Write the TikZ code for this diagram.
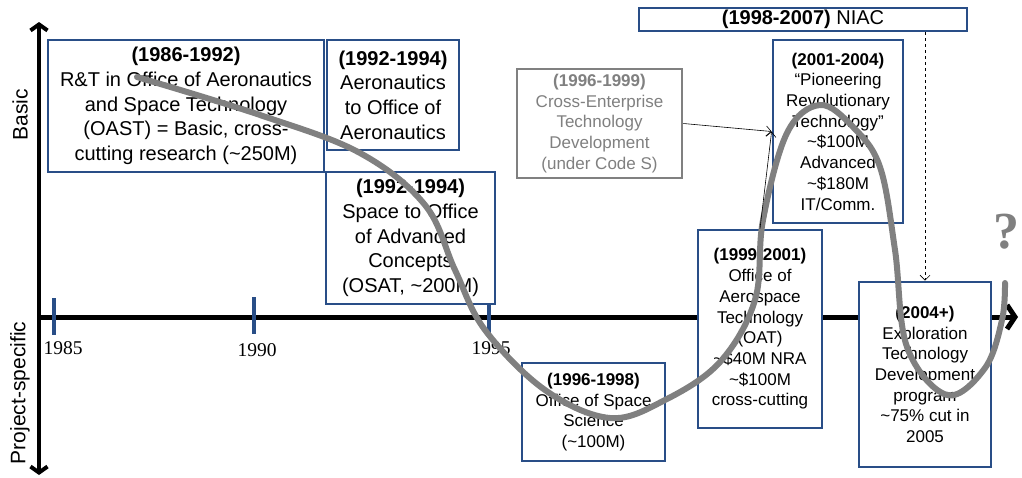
\documentclass[tikz,border=0pt]{standalone}
\usepackage{fontspec}
\setmainfont{Liberation Sans}
\newfontfamily\timesfont{Liberation Serif}
\usetikzlibrary{arrows.meta}
\definecolor{boxblue}{RGB}{41,78,135}
\definecolor{curvegray}{RGB}{128,128,128}

\begin{document}
\begin{tikzpicture}[x=1pt, y=-1pt,
        bigbox/.style={draw=boxblue, line width=2.8pt, fill=white, align=center, inner sep=0pt,
            font=\fontsize{20}{24.7}\selectfont},
        smallbox/.style={bigbox, font=\fontsize{17}{20.7}\selectfont},
        greybox/.style={smallbox, draw=curvegray, text=curvegray},
        year/.style={font=\timesfont\fontsize{19.5}{20}\selectfont},
        axislabel/.style={rotate=90, font=\fontsize{21}{22}\selectfont},
        barb/.style={-{Straight Barb[length=5pt, width=10pt]}, line width=0.6pt}]
    \useasboundingbox (0,0) rectangle (1022,477);

    % axes
    \draw[line width=4pt, {Straight Barb[length=6pt, width=17pt]}-{Straight Barb[length=6pt, width=17pt]}] (39,475) -- (39,22);
    \draw[line width=5pt, -{Straight Barb[length=8pt, width=24pt]}] (39,317) -- (1018,317);
    \node[axislabel] (basic) at (20,115) {Basic};
    \node[axislabel] (proj) at (20,393) {Project-specific};

    % years
    \draw[boxblue, line width=4pt] (54,298) -- (54,335);
    \draw[boxblue, line width=4pt] (254,297) -- (254,334);
    \draw[boxblue, line width=4pt] (489,298) -- (489,335);
    \node[year] (y1985) at (63,348) {1985};
    \node[year] (y1990) at (257,350) {1990};
    \node[year] (y1995) at (491,348) {1995};

    % offices
    \node[bigbox, minimum width=276pt, minimum height=132pt] (oast) at (186,106)
        {\textbf{(1986-1992)}\\R\&T in Office of Aeronautics\\and Space Technology\\(OAST) = Basic, cross-\\cutting research (\textasciitilde250M)};
    \node[bigbox, minimum width=132pt, minimum height=110pt] (aero) at (393,95)
        {\textbf{(1992-1994)}\\Aeronautics\\to Office of\\Aeronautics};
    \node[bigbox, minimum width=169pt, minimum height=132pt] (osat) at (410.5,238)
        {\textbf{(1992-1994)}\\Space to Office\\of Advanced\\Concepts\\(OSAT, \textasciitilde200M)};
    \node[greybox, minimum width=165pt, minimum height=109pt] (cross) at (599.5,123.5)
        {\textbf{(1996-1999)}\\Cross-Enterprise\\Technology\\Development\\(under Code S)};
    \node[bigbox, minimum width=328pt, minimum height=23pt] (niac) at (803,19.5)
        {\textbf{(1998-2007)} NIAC};
    \node[smallbox, minimum width=130pt, minimum height=183pt] (pioneer) at (838,131.5)
        {\textbf{(2001-2004)}\\“Pioneering\\Revolutionary\\Technology”\\\textasciitilde\$100M\\Advanced\\\textasciitilde\$180M\\IT/Comm.};
    \node[smallbox, minimum width=124pt, minimum height=198pt] (oat) at (760,329)
        {\textbf{(1999-2001)}\\Office of\\Aerospace\\Technology\\(OAT)\\\textasciitilde\$40M NRA\\\textasciitilde\$100M\\cross-cutting};
    \node[smallbox, minimum width=132pt, minimum height=185pt] (explore) at (925,374.5)
        {\textbf{(2004+)}\\Exploration\\Technology\\Development\\program\\\textasciitilde75\% cut in\\2005};
    \node[smallbox, minimum width=143pt, minimum height=98pt] (oss) at (593.5,412)
        {\textbf{(1996-1998)}\\Office of Space\\Science\\(\textasciitilde100M)};

    % funding trend
    \draw[curvegray, line width=6pt, line cap=round] plot[smooth, tension=0.6] coordinates {
        (137,77) (260,115) (360,153) (425,205) (455,270) (485,330)
        (545,390) (610,418) (665,400) (720,362) (755,300) (763,220)
        (787,133) (820,105) (853,127) (880,167) (895,250) (907,347)
        (947,395) (985,368) (1002,320) (1005,283)};
    \node[text=curvegray, font=\timesfont\bfseries\fontsize{52}{52}\selectfont] (qmark) at (1006,232) {?};

    \draw[barb] (cross.east) -- (pioneer.west);
    \draw[barb] (oat.north) -- (pioneer.west);
    \draw[barb, dashed] (explore.north |- niac.south) -- (explore.north);
\end{tikzpicture}
\end{document}
